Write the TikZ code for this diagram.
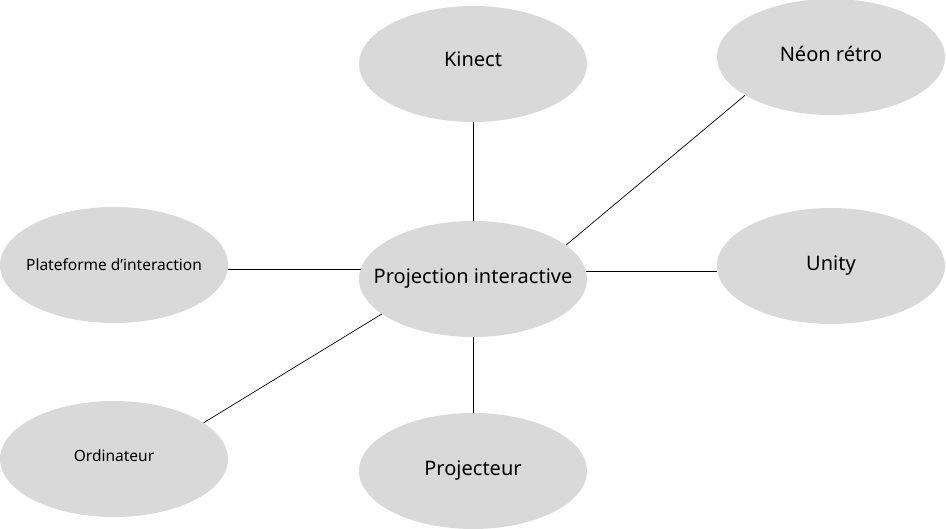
\documentclass[tikz,border=0pt]{standalone}
\usepackage{fontspec}
\setmainfont{Noto Sans}
\usetikzlibrary{shapes.geometric}
\definecolor{bubblegray}{HTML}{D9D9D9}

\tikzset{
  bubble/.style={ellipse, fill=bubblegray, minimum width=228pt, minimum height=116pt,
    inner sep=-30pt, font=\fontsize{20}{24}\selectfont},
  smalltext/.style={font=\fontsize{15.5}{18}\selectfont},
  link/.style={line width=0.7pt}
}

\begin{document}
\begin{tikzpicture}[x=1pt, y=-1pt]
  \useasboundingbox (0, 0) rectangle (946, 529);

  \node[bubble] (center) at (473, 279) {\raisebox{2pt}{Projection interactive}};
  \node[bubble] (kinect) at (473, 64) {\raisebox{9pt}{Kinect}};
  \node[bubble] (neon) at (831, 57) {\raisebox{6pt}{Néon rétro}};
  \node[bubble, smalltext] (plateforme) at (114, 265) {Plateforme d’interaction};
  \node[bubble] (unity) at (831, 266) {\raisebox{-1pt}{Unity}};
  \node[bubble, smalltext] (ordi) at (114, 459) {\raisebox{7pt}{Ordinateur}};
  \node[bubble] (projecteur) at (473, 471) {\raisebox{-2pt}{Projecteur}};

  % links to the centre
  \draw[link] (kinect.south) -- (center.north);
  \draw[link] (neon.204) -- (center.20);
  \draw[link] (plateforme.-2) -- (plateforme.-2 -| center.174);
  \draw[link] (center.4) -- (center.4 -| unity.178);
  \draw[link] (ordi.22) -- (center.201);
  \draw[link] (center.south) -- (projecteur.north);
\end{tikzpicture}
\end{document}
